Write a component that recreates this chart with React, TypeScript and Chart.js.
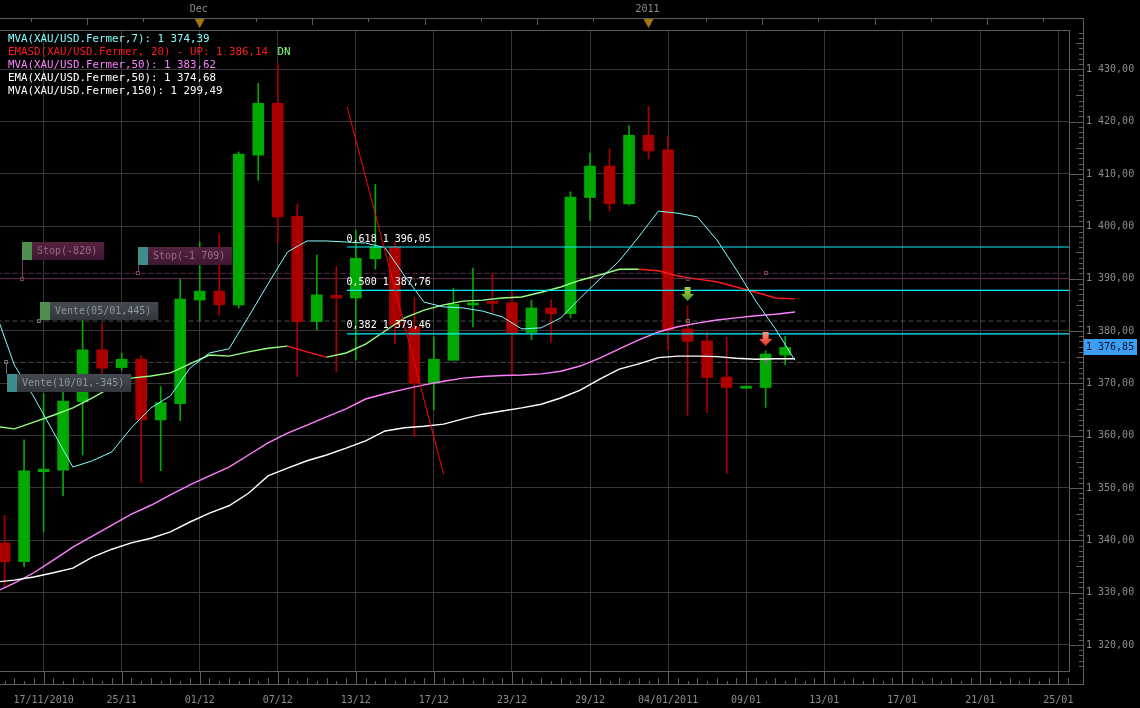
import React, { useEffect, useRef } from 'react';
import { Chart, registerables } from 'chart.js';

Chart.register(...registerables);

// ---------- data ----------
const instrument = 'XAU/USD.Fermer';
const xTickIdx = [2, 6, 10, 14, 18, 22, 26, 30, 34, 38, 42, 46, 50, 54];
const xTickLabels = ['17/11/2010', '25/11', '01/12', '07/12', '13/12', '17/12', '23/12', '29/12', '04/01/2011', '09/01', '13/01', '17/01', '21/01', '25/01'];
const yTicks = [1320, 1330, 1340, 1350, 1360, 1370, 1380, 1390, 1400, 1410, 1420, 1430];
const periodLabels = ['Dec', '2011'];
const periodIdx = [10, 33];

const opens = [1339.5, 1335.9, 1353.1, 1353.4, 1366.5, 1376.4, 1373.0, 1374.6, 1363.0, 1366.1, 1385.9, 1387.6, 1385.0, 1413.6, 1423.5, 1401.9, 1381.8, 1386.8, 1386.3, 1393.8, 1396.1, 1380.8, 1370.0, 1374.4, 1385.0, 1385.5, 1385.4, 1379.7, 1384.4, 1383.3, 1405.5, 1411.5, 1404.3, 1417.4, 1414.6, 1380.4, 1378.1, 1371.2, 1369.2, 1369.2, 1375.4];
const highs = [1344.8, 1359.2, 1368.0, 1368.3, 1382.1, 1381.5, 1375.8, 1375.3, 1369.4, 1389.9, 1397.0, 1398.5, 1414.2, 1427.3, 1431.2, 1404.2, 1394.5, 1392.3, 1399.3, 1408.0, 1396.9, 1386.4, 1378.9, 1388.2, 1392.0, 1391.0, 1387.8, 1385.9, 1386.0, 1406.6, 1414.0, 1414.8, 1419.2, 1422.9, 1417.3, 1384.8, 1379.8, 1378.8, 1369.3, 1376.2, 1379.0];
const lows = [1331.1, 1334.9, 1341.6, 1348.5, 1356.3, 1370.2, 1372.5, 1351.0, 1353.3, 1362.9, 1382.0, 1383.0, 1384.4, 1408.8, 1396.8, 1371.3, 1380.2, 1372.2, 1374.4, 1391.8, 1377.6, 1359.8, 1364.9, 1374.4, 1380.8, 1383.4, 1371.6, 1378.3, 1377.8, 1382.5, 1401.1, 1402.9, 1404.1, 1412.9, 1376.5, 1363.9, 1364.4, 1352.8, 1369.2, 1365.4, 1373.5];
const closes = [1335.9, 1353.3, 1353.6, 1366.6, 1376.4, 1372.9, 1374.6, 1363.0, 1366.3, 1386.1, 1387.6, 1385.0, 1413.8, 1423.5, 1401.8, 1381.8, 1386.9, 1386.3, 1393.9, 1396.1, 1381.1, 1370.0, 1374.6, 1385.1, 1385.3, 1385.4, 1379.7, 1384.4, 1383.3, 1405.6, 1411.5, 1404.3, 1417.4, 1414.4, 1380.2, 1378.0, 1371.1, 1369.2, 1369.3, 1375.6, 1376.85];

// indicator values: first value belongs to the bar before the first visible candle
const mva7 = [1384.0, 1373.5, 1367.4, 1360.7, 1354.0, 1355.2, 1356.9, 1361.5, 1365.3, 1367.6, 1372.9, 1375.8, 1376.6, 1382.7, 1389.0, 1395.1, 1397.2, 1397.2, 1397.0, 1396.8, 1395.9, 1390.5, 1385.5, 1384.6, 1384.4, 1383.8, 1382.7, 1380.4, 1380.6, 1382.5, 1386.3, 1389.9, 1393.4, 1398.0, 1402.9, 1402.5, 1401.8, 1397.4, 1391.7, 1385.7, 1380.4, 1374.39];
const emasd = [1361.8, 1361.3, 1362.6, 1363.9, 1365.3, 1367.2, 1369.3, 1371.0, 1371.4, 1372.0, 1373.7, 1375.4, 1375.2, 1376.0, 1376.7, 1377.1, 1376.0, 1375.0, 1375.8, 1377.5, 1380.0, 1382.5, 1384.0, 1385.0, 1385.7, 1385.9, 1386.3, 1386.5, 1387.4, 1388.4, 1389.7, 1390.7, 1391.8, 1391.8, 1391.5, 1390.5, 1389.9, 1389.4, 1388.4, 1387.4, 1386.3, 1386.14];
const emasdUp = [false, false, false, false, false, false, false, false, false, false, false, false, false, false, false, false, true, true, false, false, false, false, false, false, false, false, false, false, false, false, false, false, false, false, true, true, true, true, true, true, true, true];
const mva50 = [1330.1, 1331.8, 1333.8, 1336.2, 1338.7, 1340.8, 1342.9, 1345.0, 1346.7, 1348.7, 1350.6, 1352.3, 1354.0, 1356.3, 1358.6, 1360.5, 1362.0, 1363.6, 1365.1, 1367.0, 1368.0, 1368.9, 1369.7, 1370.4, 1371.0, 1371.3, 1371.5, 1371.6, 1371.8, 1372.3, 1373.3, 1374.8, 1376.6, 1378.3, 1379.8, 1380.8, 1381.5, 1382.1, 1382.5, 1382.9, 1383.2, 1383.62];
const ema50 = [1332.0, 1332.4, 1333.0, 1333.8, 1334.7, 1336.8, 1338.3, 1339.5, 1340.4, 1341.6, 1343.5, 1345.2, 1346.6, 1349.0, 1352.3, 1353.8, 1355.2, 1356.3, 1357.6, 1359.0, 1360.9, 1361.5, 1361.8, 1362.2, 1363.2, 1364.1, 1364.7, 1365.3, 1366.0, 1367.2, 1368.7, 1370.8, 1372.7, 1373.7, 1374.9, 1375.2, 1375.2, 1375.1, 1374.8, 1374.6, 1374.7, 1374.68];
const mva150Last = 1299.49;

const fibLevels = [0.618, 0.5, 0.382];
const fibPrices = [1396.05, 1387.76, 1379.46];
const fibStartIdx = 17.55;
const swingIdx = [17.55, 22.5];
const swingPrices = [1422.9, 1352.6];

const tradeNames = ['Stop(-820)', 'Stop(-1 709)', 'Vente(05/01,445)', 'Vente(10/01,-345)'];
const tradeLevels = [1390.0, 1391.0, 1381.9, 1374.0];
const tradeAnchorIdx = [0.89, 6.86, 1.74, 0.05];
const tradeBoxTop = [1397.0, 1396.05, 1385.5, 1371.8];
const tradeHitIdx = [35, 39, 35, 39];
const tradeIsStop = [true, true, false, false];
const tradeChip = ['#4f8f4f', '#3f8c8c', '#4f8f4f', '#3f8c8c'];

const signalIdx = [35, 39];
const signalTop = [1388.4, 1379.8];
const signalBuy = [false, true];

const lastPrice = 1376.85;

// ---------- scale setup ----------
const X_MIN = -0.234;
const X_MAX = 54.545;
const Y_MIN = 1315.03;
const Y_MAX = 1437.51;

const GREEN = '#00aa00';
const RED = '#aa0000';
const MONO = "'DejaVu Sans Mono', 'Liberation Mono', monospace";

const fmt = (v: number) => {
  const [a, b] = v.toFixed(2).split('.');
  return a.replace(/\B(?=(\d{3})+(?!\d))/g, ' ') + ',' + b;
};

const candleIdx = opens.map((_, i) => i);
const lineIdx = mva7.map((_, k) => k - 1 + 0.5);
const candleColors = candleIdx.map((i) => (closes[i] >= opens[i] ? GREEN : RED));

const lineSeries = (vals: number[]) => vals.map((v, k) => ({ x: lineIdx[k], y: v }));

const bgPlugin = {
  id: 'bg',
  beforeDraw(chart: any) {
    const c = chart.ctx;
    c.save();
    c.fillStyle = '#000';
    c.fillRect(0, 0, chart.width, chart.height);
    c.restore();
  },
};

const overlayPlugin = {
  id: 'overlay',
  afterDraw(chart: any) {
    const ctx = chart.ctx as CanvasRenderingContext2D;
    const xs = chart.scales.x;
    const ys = chart.scales.y;
    const { right, top, bottom } = chart.chartArea;
    const px = (v: number) => xs.getPixelForValue(v);
    const py = (v: number) => ys.getPixelForValue(v);
    const OUT_R = right + 14;
    const OUT_T = top - 12;
    const OUT_B = bottom + 13;
    const ln = (x1: number, y1: number, x2: number, y2: number) => {
      ctx.beginPath();
      ctx.moveTo(x1, y1);
      ctx.lineTo(x2, y2);
      ctx.stroke();
    };
    const text = (s: string, x: number, y: number, color: string, size: number, align: CanvasTextAlign = 'left') => {
      ctx.font = `${size}px ${MONO}`;
      ctx.fillStyle = color;
      ctx.textAlign = align;
      ctx.textBaseline = 'middle';
      ctx.fillText(s, x, y);
    };
    ctx.save();

    // frames
    ctx.strokeStyle = '#5c5c5c';
    ctx.lineWidth = 1;
    ln(0, OUT_T + 0.5, OUT_R + 1, OUT_T + 0.5);
    ln(0, top + 0.5, right + 1, top + 0.5);
    ln(right + 0.5, top, right + 0.5, bottom + 1);
    ln(0, bottom + 0.5, right + 1, bottom + 0.5);
    ln(OUT_R + 0.5, OUT_T, OUT_R + 0.5, OUT_B + 1);
    ln(0, OUT_B + 0.5, OUT_R + 1, OUT_B + 0.5);

    // right strip ticks
    yTicks.forEach((v) => {
      const y = Math.round(py(v)) + 0.5;
      ln(right, y, OUT_R, y);
    });
    for (let v = Math.ceil(Y_MIN); v <= Math.floor(Y_MAX); v++) {
      if (v % 10 === 0) continue;
      const len = v % 5 === 0 ? 7 : 4;
      const y = Math.round(py(v)) + 0.5;
      ln(OUT_R - len, y, OUT_R, y);
    }

    // bottom strip ticks
    xTickIdx.forEach((v) => {
      const x = Math.round(px(v)) + 0.5;
      ln(x, bottom, x, OUT_B);
    });
    for (let k = -1; k <= 110; k++) {
      const v = k / 2;
      if (v < X_MIN || v > X_MAX) continue;
      const len = k % 2 === 0 ? 3 : 6;
      const x = Math.round(px(v)) + 0.5;
      ln(x, OUT_B - len, x, OUT_B);
    }

    // top strip ticks
    for (let k = -4; k <= 16; k++) {
      const v = periodIdx[0] + k * 2.882;
      if (v < X_MIN || v > X_MAX) continue;
      const x = Math.round(px(v)) + 0.5;
      ln(x, OUT_T, x, OUT_T + (k % 2 === 0 ? 7 : 4));
    }

    // period markers
    periodLabels.forEach((lab, k) => {
      const x = px(periodIdx[k]);
      text(lab, x - 1, 9, '#8c8c8c', 10, 'center');
      ctx.fillStyle = '#a8760e';
      ctx.beginPath();
      ctx.moveTo(x - 5, OUT_T + 1);
      ctx.lineTo(x + 5, OUT_T + 1);
      ctx.lineTo(x, OUT_T + 10);
      ctx.closePath();
      ctx.fill();
    });

    // x labels
    ctx.font = `10px ${MONO}`;
    xTickLabels.forEach((lab, k) => {
      const w = ctx.measureText(lab).width;
      const x = Math.max(0, px(xTickIdx[k]) - w / 2);
      text(lab, x, 700, '#8c8c8c', 10, 'left');
    });

    // trade markers on levels
    tradeLevels.forEach((lvl, k) => {
      ctx.strokeStyle = tradeIsStop[k] ? '#7a3868' : '#6a6e74';
      const hx = Math.round(px(tradeHitIdx[k]));
      const hy = Math.round(py(lvl));
      ctx.strokeRect(hx - 1.5, hy - 1.5, 3, 3);
    });

    // trade label boxes
    tradeNames.forEach((name, k) => {
      const ax = Math.round(px(tradeAnchorIdx[k]));
      const ay = Math.round(py(tradeLevels[k]));
      const bTop = Math.round(py(tradeBoxTop[k]));
      const bH = 18;
      const stop = tradeIsStop[k];
      ctx.strokeStyle = stop ? '#7a3868' : '#6a6e74';
      const bBottom = bTop + bH;
      if (ay > bBottom) ln(ax + 0.5, bBottom, ax + 0.5, ay - 1);
      else if (ay < bTop) ln(ax + 0.5, ay + 1, ax + 0.5, bTop);
      ctx.strokeRect(ax - 1.5, ay - 1.5, 3, 3);
      ctx.font = `10px ${MONO}`;
      const tw = ctx.measureText(name).width;
      const bx = stop ? ax : ax + 1;
      const bw = 10 + 5 + tw + 7;
      const g = ctx.createLinearGradient(0, bTop, 0, bTop + bH);
      if (stop) {
        g.addColorStop(0, '#55213f');
        g.addColorStop(1, '#3e1832');
      } else {
        g.addColorStop(0, '#454a51');
        g.addColorStop(1, '#33373c');
      }
      ctx.fillStyle = g;
      ctx.fillRect(bx, bTop, bw, bH);
      ctx.fillStyle = tradeChip[k];
      ctx.fillRect(bx, bTop, 10, bH);
      text(name, bx + 15, bTop + bH / 2 + 0.5, stop ? '#9a6a8e' : '#8e959d', 10);
    });

    // fib labels
    fibLevels.forEach((lvl, k) => {
      const s = lvl.toFixed(3).replace('.', ',') + ' ' + fmt(fibPrices[k]);
      text(s, px(fibStartIdx) - 0.5, py(fibPrices[k]) - 8, '#ffffff', 10);
    });

    // signal arrows
    signalIdx.forEach((idx, k) => {
      const cx = px(idx);
      const yT = py(signalTop[k]);
      const g = ctx.createLinearGradient(0, yT, 0, yT + 14);
      if (signalBuy[k]) {
        g.addColorStop(0, '#ff9a80');
        g.addColorStop(1, '#e0281a');
      } else {
        g.addColorStop(0, '#9fd24a');
        g.addColorStop(1, '#4f9a1c');
      }
      ctx.fillStyle = g;
      ctx.beginPath();
      ctx.moveTo(cx - 3, yT);
      ctx.lineTo(cx + 3, yT);
      ctx.lineTo(cx + 3, yT + 7);
      ctx.lineTo(cx + 6.5, yT + 7);
      ctx.lineTo(cx, yT + 14);
      ctx.lineTo(cx - 6.5, yT + 7);
      ctx.lineTo(cx - 3, yT + 7);
      ctx.closePath();
      ctx.fill();
    });

    // legend
    const n = mva7.length - 1;
    const L = [
      { s: `MVA(${instrument},7): ${fmt(mva7[n])}`, c: '#80ffff' },
      { s: `EMASD(${instrument}, 20) - UP: ${fmt(emasd[n])}`, c: '#ff1a1a' },
      { s: `MVA(${instrument},50): ${fmt(mva50[n])}`, c: '#ff80ff' },
      { s: `EMA(${instrument},50): ${fmt(ema50[n])}`, c: '#ffffff' },
      { s: `MVA(${instrument},150): ${fmt(mva150Last)}`, c: '#ffffff' },
    ];
    L.forEach((l, k) => text(l.s, 8, 39 + k * 13, l.c, 10.8));
    ctx.font = `10.8px ${MONO}`;
    const w2 = ctx.measureText(L[1].s + ' ').width;
    text('DN', 8 + w2 + 3, 52, '#80ff80', 10.8);

    // last price tag
    const yp = Math.round(py(lastPrice));
    ctx.fillStyle = '#3d9df2';
    ctx.fillRect(OUT_R + 1, yp - 8, 53, 16);
    text(fmt(lastPrice), OUT_R + 3, yp + 0.5, '#06182c', 10);

    ctx.restore();
  },
};

export default function App() {
  const ref = useRef<HTMLCanvasElement>(null);
  useEffect(() => {
    document.body.style.margin = '0';
    document.body.style.background = '#000';
    const bodies = candleIdx.map((i) => {
      let lo = Math.min(opens[i], closes[i]);
      let hi = Math.max(opens[i], closes[i]);
      if (hi - lo < 0.4) {
        const m = (hi + lo) / 2;
        lo = m - 0.2;
        hi = m + 0.2;
      }
      return { x: i, y: [lo, hi] };
    });
    const wicks = candleIdx.map((i) => ({ x: i, y: [lows[i], highs[i]] }));
    const full = (v: number) => [{ x: X_MIN - 1, y: v }, { x: X_MAX + 1, y: v }];

    const datasets: any[] = [
      ...tradeLevels.map((lvl, k) => ({
        type: 'line',
        data: full(lvl),
        borderColor: tradeIsStop[k] ? '#5c2a4c' : '#4e4e52',
        borderWidth: 1,
        borderDash: k === 0 ? [] : [5, 3],
        pointRadius: 0,
        order: 20,
      })),
      {
        type: 'bar',
        data: wicks,
        backgroundColor: candleColors,
        barThickness: 1,
        grouped: false,
        borderWidth: 0,
        order: 12,
      },
      {
        type: 'bar',
        data: bodies,
        backgroundColor: candleColors,
        barThickness: 11,
        grouped: false,
        borderWidth: 0,
        order: 11,
      },
      {
        type: 'line',
        data: lineSeries(ema50),
        borderColor: '#ffffff',
        borderWidth: 1.4,
        pointRadius: 0,
        order: 6,
      },
      {
        type: 'line',
        data: lineSeries(mva50),
        borderColor: '#ff80ff',
        borderWidth: 1.4,
        pointRadius: 0,
        order: 6,
      },
      {
        type: 'line',
        data: lineSeries(emasd),
        borderColor: '#96ff80',
        borderWidth: 1.4,
        pointRadius: 0,
        segment: {
          borderColor: (c: any) => (emasdUp[c.p1DataIndex] ? '#ff1a1a' : '#96ff80'),
        },
        order: 5,
      },
      {
        type: 'line',
        data: lineSeries(mva7),
        borderColor: '#80ffff',
        borderWidth: 1,
        pointRadius: 0,
        order: 4,
      },
      ...fibPrices.map((p) => ({
        type: 'line',
        data: [{ x: fibStartIdx, y: p }, { x: X_MAX + 1, y: p }],
        borderColor: '#00f0ff',
        borderWidth: 1.2,
        pointRadius: 0,
        order: 3,
      })),
      {
        type: 'line',
        data: swingIdx.map((x, k) => ({ x, y: swingPrices[k] })),
        borderColor: '#ff0000',
        borderWidth: 1,
        pointRadius: 0,
        order: 2,
      },
    ];

    const chart = new Chart(ref.current as HTMLCanvasElement, {
      type: 'bar',
      data: { datasets },
      options: {
        animation: false,
        responsive: false,
        maintainAspectRatio: false,
        events: [],
        layout: { padding: { top: 30, left: 0, right: 0, bottom: 0 } },
        plugins: { legend: { display: false }, tooltip: { enabled: false } },
        scales: {
          x: {
            type: 'linear',
            min: X_MIN,
            max: X_MAX,
            offset: false,
            grid: { color: '#383838', drawTicks: false, lineWidth: 1, offset: false },
            border: { display: false },
            ticks: { display: false },
            afterBuildTicks: (s: any) => {
              s.ticks = xTickIdx.map((v) => ({ value: v }));
            },
            afterFit: (s: any) => {
              s.height = 37;
            },
          },
          y: {
            type: 'linear',
            position: 'right',
            min: Y_MIN,
            max: Y_MAX,
            grid: { color: '#383838', drawTicks: false, lineWidth: 1 },
            border: { display: false },
            ticks: {
              color: '#8c8c8c',
              font: { family: MONO, size: 10 },
              padding: 17,
              callback: (v: any) => fmt(Number(v)),
            },
            afterBuildTicks: (s: any) => {
              s.ticks = yTicks.map((v) => ({ value: v }));
            },
            afterFit: (s: any) => {
              s.width = 71;
            },
          },
        },
      } as any,
      plugins: [bgPlugin, overlayPlugin],
    });
    return () => chart.destroy();
  }, []);
  return (
    <div style={{ position: 'absolute', left: 0, top: 0, width: 1140, height: 708, background: '#000' }}>
      <canvas ref={ref} width={1140} height={708} style={{ display: 'block', width: 1140, height: 708 }} />
    </div>
  );
}
